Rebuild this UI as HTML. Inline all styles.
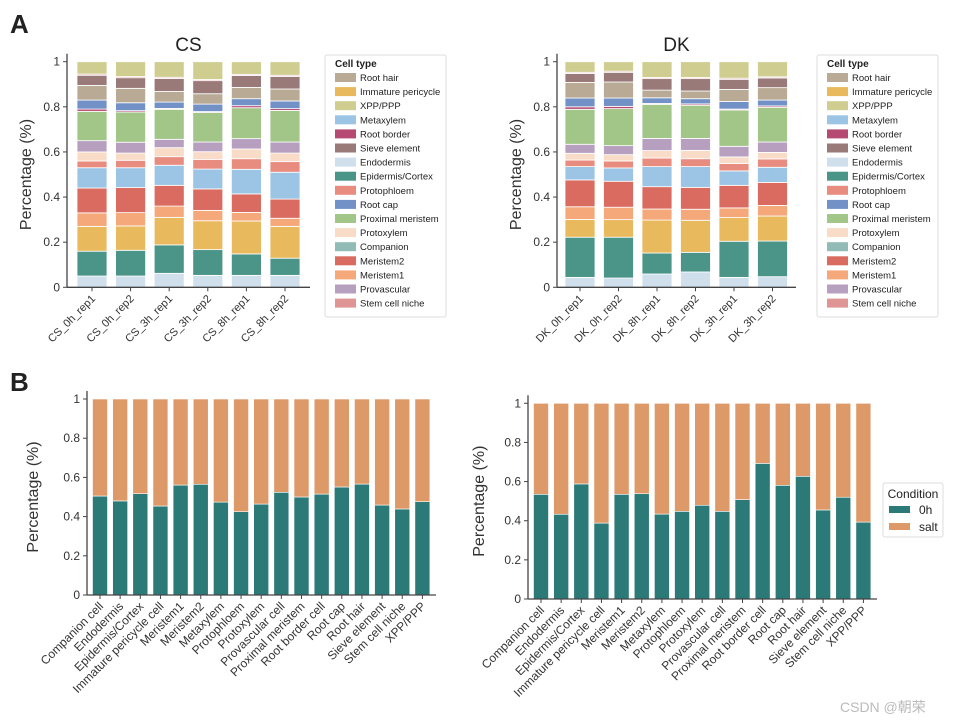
<!DOCTYPE html>
<html><head><meta charset="utf-8"><style>
body{margin:0;background:#fff;}
svg{display:block;font-family:"Liberation Sans","DejaVu Sans",sans-serif;}
</style></head><body>
<svg id="fig" width="955" height="723" viewBox="0 0 955 723" xmlns="http://www.w3.org/2000/svg">
<text x="10" y="33" font-size="26" font-weight="bold" fill="#222">A</text>
<text x="10" y="391" font-size="26" font-weight="bold" fill="#222">B</text>
<text x="840" y="712" font-size="14" fill="#bbb" font-family="Liberation Sans, Noto Sans CJK SC, sans-serif">CSDN @朝荣</text>
</svg>
<script>
const cellTypes=["Companion","Endodermis","Epidermis/Cortex","Immature pericycle","Meristem1","Meristem2","Metaxylem","Protophloem","Protoxylem","Provascular","Proximal meristem","Root border","Root cap","Root hair","Sieve element","Stem cell niche","XPP/PPP"];
const csSamples=["CS_0h_rep1","CS_0h_rep2","CS_3h_rep1","CS_3h_rep2","CS_8h_rep1","CS_8h_rep2"];
const dkSamples=["DK_0h_rep1","DK_0h_rep2","DK_8h_rep1","DK_8h_rep2","DK_3h_rep1","DK_3h_rep2"];
// per sample: fractions in cellTypes order
const csValues=[
[0,.05,.11,.11,.06,.11,.09,.03,.04,.05,.13,.01,.04,.065,.045,.005,.055],
[0,.05,.114,.108,.059,.111,.088,.033,.032,.048,.134,.006,.035,.064,.047,.005,.066],
[0,.062,.126,.122,.05,.092,.089,.038,.04,.037,.133,.004,.028,.047,.058,.005,.069],
[0,.053,.114,.128,.046,.095,.088,.043,.034,.043,.131,.004,.033,.046,.058,.005,.079],
[0,.053,.095,.146,.038,.082,.109,.047,.043,.046,.137,.009,.031,.05,.053,.005,.056],
[0,.053,.076,.141,.036,.085,.119,.047,.038,.049,.14,.008,.034,.053,.056,.005,.06]];
const dkValues=[
[0,.044,.178,.079,.056,.119,.059,.029,.03,.04,.155,.011,.039,.069,.04,.005,.047],
[0,.041,.181,.078,.055,.115,.059,.031,.028,.04,.164,.01,.037,.071,.043,.005,.042],
[0,.059,.093,.146,.049,.099,.089,.038,.033,.054,.151,.004,.025,.034,.051,.005,.07],
[0,.068,.087,.142,.049,.097,.092,.035,.037,.053,.147,.006,.023,.034,.055,.005,.07],
[0,.044,.16,.105,.043,.1,.064,.033,.029,.047,.161,.004,.034,.053,.045,.005,.073],
[0,.047,.158,.111,.047,.102,.067,.037,.029,.046,.154,.006,.026,.055,.043,.005,.067]];
const condCats=["Companion cell","Endodermis","Epidermis/Cortex","Immature pericycle cell","Meristem1","Meristem2","Metaxylem","Protophloem","Protoxylem","Provascular cell","Proximal meristem","Root border cell","Root cap","Root hair","Sieve element","Stem cell niche","XPP/PPP"];
const cs0h=[.505,.48,.517,.454,.561,.565,.474,.425,.464,.524,.5,.515,.551,.566,.459,.439,.476];
const dk0h=[.535,.433,.588,.388,.535,.538,.434,.448,.479,.448,.508,.693,.581,.627,.455,.52,.393];
const yTicks=[0,0.2,0.4,0.6,0.8,1];
const yTickLabels=["0","0.2","0.4","0.6","0.8","1"];
const legendOrder=["Root hair","Immature pericycle","XPP/PPP","Metaxylem","Root border","Sieve element","Endodermis","Epidermis/Cortex","Protophloem","Root cap","Proximal meristem","Protoxylem","Companion","Meristem2","Meristem1","Provascular","Stem cell niche"];
const colors={"Companion":"#91bcb5","Endodermis":"#cfe0ec","Epidermis/Cortex":"#4a9488","Immature pericycle":"#e9b95e","Meristem1":"#f5a97a","Meristem2":"#d96b61","Metaxylem":"#9bc4e5","Protophloem":"#e88c80","Protoxylem":"#f8dcc8","Provascular":"#b79fc0","Proximal meristem":"#a2c588","Root border":"#b54a72","Root cap":"#7291c7","Root hair":"#b8aa94","Sieve element":"#9a7979","Stem cell niche":"#e09595","XPP/PPP":"#cfcd90"};
const C0="#2c7a78",C1="#de9969";
const svg=document.getElementById('fig');
const NS="http://www.w3.org/2000/svg";
function mk(t,a,p){const e=document.createElementNS(NS,t);for(const k in a)e.setAttribute(k,a[k]);(p||svg).appendChild(e);return e;}
function axes(g,x0,x1,y0,y1,ylab,ylx,cats,xs,fs){
  mk('line',{x1:x0,y1:y1-8,x2:x0,y2:y0,stroke:'#444','stroke-width':1.3},g);
  mk('line',{x1:x0,y1:y0,x2:x1,y2:y0,stroke:'#444','stroke-width':1.3},g);
  yTicks.forEach((v,i)=>{const y=y0-(y0-y1)*v;
    mk('line',{x1:x0-4,y1:y,x2:x0,y2:y,stroke:'#444'},g);
    const t=mk('text',{x:x0-7,y:y+4,'font-size':12,'text-anchor':'end',fill:'#333'},g);t.textContent=yTickLabels[i];
    
    });
  cats.forEach((c,i)=>{const x=xs(i);
    mk('line',{x1:x,y1:y0,x2:x,y2:y0+4,stroke:'#444'},g);
    const t=mk('text',{x:x+4,y:y0+12,'font-size':fs,'text-anchor':'end',fill:'#333',transform:`rotate(-45 ${x+4} ${y0+12})`},g);t.textContent=c;
    
    });
  const yc=(y0+y1)/2;
  const t=mk('text',{x:ylx,y:yc,'font-size':16,'text-anchor':'middle',fill:'#333',transform:`rotate(-90 ${ylx} ${yc})`},g);t.textContent=ylab;
  
  
}
function stacked(name,title,tx,samples,vals,x0,x1,xFirst,step,lx){
  const g=mk('g',{});
  
  
  const y0=287.3,y1=61.7,bw=30;
  const ys=v=>y0-(y0-y1)*v, xs=i=>xFirst+step*i;
  vals.forEach((row,i)=>{let cum=0;row.forEach((v,j)=>{
    const r=mk('rect',{x:xs(i)-bw/2,y:ys(cum+v),width:bw,height:Math.max(0,ys(cum)-ys(cum+v)),fill:colors[cellTypes[j]],stroke:'#fff','stroke-width':0.8},g);
    
    
    cum+=v;});});
  axes(g,x0,x1,y0,y1,"Percentage (%)",x0-36,samples,xs,11);
  const tt=mk('text',{x:(x0+x1)/2,y:51,'font-size':19,'text-anchor':'middle',fill:'#222'},g);tt.textContent=title;
  
  
  const lg=mk('g',{},g);
  
  
  mk('rect',{x:lx,y:55,width:121,height:262,fill:'#fff',stroke:'#ddd',rx:2},lg);
  const h=mk('text',{x:lx+10,y:67,'font-size':10,'font-weight':'bold',fill:'#222'},lg);h.textContent="Cell type";
  legendOrder.forEach((n,i)=>{const y=73+i*14.1;
    mk('rect',{x:lx+10,y:y,width:21,height:9,fill:colors[n]},lg);
    const t=mk('text',{x:lx+35,y:y+8,'font-size':9.5,fill:'#222'},lg);t.textContent=n;
    
    });
}
stacked('cs-chart','CS',0,csSamples,csValues,67,310,92,38.6,325);
stacked('dk-chart','DK',0,dkSamples,dkValues,557,796,580,38.5,817);
function cond(name,vals,x0,x1,y0,y1,xFirst,ylx){
  const g=mk('g',{});
  
  
  const bw=15,step=20.15;const ys=v=>y0-(y0-y1)*v,xs=i=>xFirst+step*i;
  vals.forEach((v,i)=>{
    const a=mk('rect',{x:xs(i)-bw/2,y:ys(v),width:bw,height:ys(0)-ys(v),fill:C0,stroke:'#fff','stroke-width':0.6},g);
    
    
    const b=mk('rect',{x:xs(i)-bw/2,y:ys(1),width:bw,height:ys(v)-ys(1),fill:C1,stroke:'#fff','stroke-width':0.6},g);
    
    });
  axes(g,x0,x1,y0,y1,"Percentage (%)",ylx,condCats,xs,12);
}
cond('cs-condition-chart',cs0h,87,436,595,399,100,38);
cond('dk-condition-chart',dk0h,528,877,599,403.3,541,484);
const lg=mk('g',{});


mk('rect',{x:883,y:483,width:60,height:54,fill:'#fff',stroke:'#ddd',rx:2},lg);
let t=mk('text',{x:913,y:498,'font-size':12,'text-anchor':'middle',fill:'#222'},lg);t.textContent="Condition";
mk('rect',{x:889,y:506,width:21,height:7,fill:C0},lg);
t=mk('text',{x:919,y:514,'font-size':12,fill:'#222'},lg);t.textContent="0h";
mk('rect',{x:889,y:523,width:21,height:7,fill:C1},lg);
t=mk('text',{x:919,y:531,'font-size':12,fill:'#222'},lg);t.textContent="salt";
</script>
</body></html>
